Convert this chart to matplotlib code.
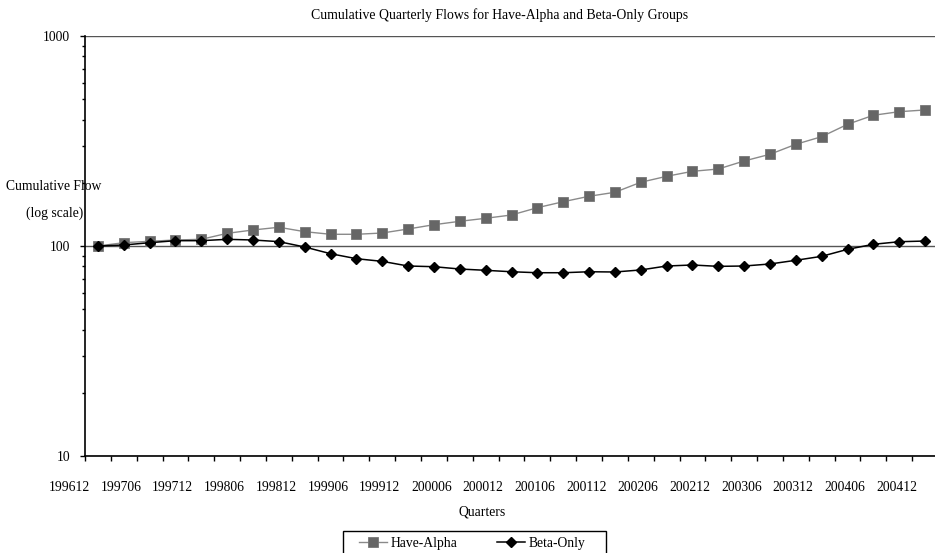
import numpy as np
import matplotlib
matplotlib.use("Agg")
import matplotlib.pyplot as plt
from matplotlib.patches import Rectangle
from matplotlib.ticker import LogLocator, NullFormatter, FixedLocator

plt.rcParams["font.family"] = ["Liberation Serif", "DejaVu Serif"]

# cumulative flow index, one value per quarter (33 quarters)
have_alpha = [100, 103.7, 105.3, 106.8, 107.6, 114.9, 119.2, 122.8, 117.0, 113.7,
              113.7, 115.3, 120.5, 126.3, 131.1, 135.5, 140.5, 152.2, 162.5, 172.5,
              180.2, 201.1, 214.7, 226.8, 232.6, 254.0, 273.4, 305.0, 331.6, 379.7,
              419.3, 436.1, 444.4]
beta_only = [100, 101.1, 103.7, 106.0, 106.0, 107.6, 106.8, 104.9, 98.9, 91.9,
             87.0, 84.5, 80.3, 79.7, 77.7, 76.6, 75.4, 74.6, 74.6, 75.4,
             75.2, 76.9, 80.3, 81.2, 80.0, 80.3, 82.1, 85.5, 89.3, 96.4,
             101.9, 104.8, 105.6]
tick_labels = ["199612", "199706", "199712", "199806", "199812", "199906",
               "199912", "200006", "200012", "200106", "200112", "200206",
               "200212", "200306", "200312", "200406", "200412"]
y_ticks = [10, 100, 1000]

W, H = 935, 553
fig = plt.figure(figsize=(W / 100, H / 100), dpi=100)
ax = fig.add_axes([85 / W, (H - 456) / H, 853 / W, 420 / H])

x = np.arange(len(have_alpha))
ax.plot(x, have_alpha, color="#8a8a8a", lw=1.0, marker="s", ms=6.5,
        mfc="#666666", mec="#777777", mew=0.6, label="Have-Alpha", zorder=3)
ax.plot(x, beta_only, color="black", lw=1.1, marker="D", ms=4.6,
        mfc="black", mec="black", label="Beta-Only", zorder=4)

ax.set_yscale("log")
ax.set_ylim(10, 1000)
ax.set_xlim(-0.5, len(x) - 0.5)

ax.yaxis.set_major_locator(FixedLocator(y_ticks))
ax.set_yticklabels([str(v) for v in y_ticks])
ax.yaxis.set_minor_locator(LogLocator(base=10, subs=np.arange(2, 10)))
ax.yaxis.set_minor_formatter(NullFormatter())
ax.tick_params(axis="y", which="major", direction="out", length=3.6, width=1,
               pad=7.2, labelsize=9.8)
ax.tick_params(axis="y", which="minor", direction="out", length=2.5, width=1)

# tick marks between categories, labels drawn separately
ax.set_xticks(np.arange(len(x) + 1) - 0.5)
ax.set_xticklabels([])
ax.tick_params(axis="x", which="major", direction="out", length=3.6, width=1)
for k, lab in enumerate(tick_labels):
    ax.text(2 * k - 1.1, -0.074, lab, transform=ax.get_xaxis_transform(),
            ha="center", va="center", fontsize=9.8, clip_on=False)

ax.grid(axis="y", which="major", color="#555555", lw=1.0)
ax.spines["top"].set_visible(False)
ax.spines["right"].set_visible(False)
for s in ("left", "bottom"):
    ax.spines[s].set_linewidth(1.2)

fig.text(500 / W, 1 - 15 / H,
         "Cumulative Quarterly Flows for Have-Alpha and Beta-Only Groups",
         ha="center", va="center", fontsize=9.9)
fig.text(54 / W, 1 - 187 / H, "Cumulative Flow", ha="center", va="center", fontsize=9.8)
fig.text(55 / W, 1 - 213 / H, "(log scale)", ha="center", va="center", fontsize=9.8)
fig.text(482 / W, 1 - 512 / H, "Quarters", ha="center", va="center", fontsize=9.8)

# legend box runs past the bottom edge, as in the original
fig.patches.append(Rectangle((343 / W, -0.02), 263 / W, (H - 531) / H + 0.02,
                             transform=fig.transFigure, fill=False,
                             edgecolor="black", lw=1.0))
fig.legend(loc="center left", bbox_to_anchor=(359 / W, 1 - 543 / H), ncol=2,
           frameon=False, fontsize=9.8, handlelength=2.06,
           handletextpad=0.3, columnspacing=2.85, borderpad=0,
           borderaxespad=0)

fig.savefig("out.png", dpi=100)
